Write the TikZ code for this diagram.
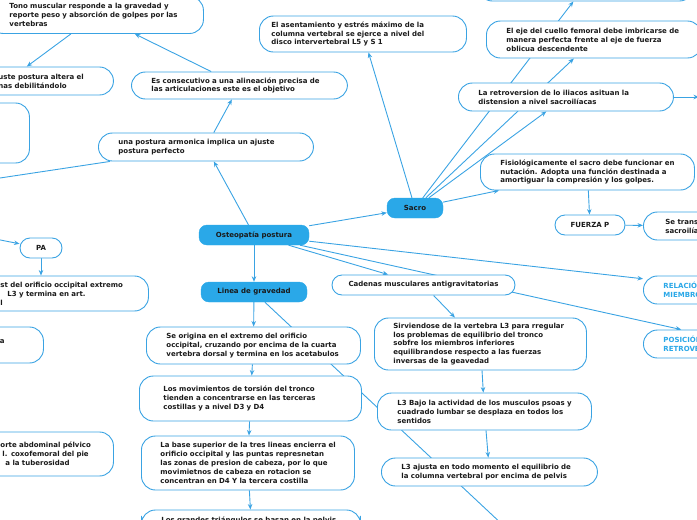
\documentclass[tikz,border=0pt]{standalone}
\usepackage{fontspec}
\setmainfont{DejaVu Sans}
\usetikzlibrary{arrows.meta,positioning,calc,backgrounds}
\definecolor{MapBlue} {HTML}{2AA8E8}
\definecolor{EdgeBlue}{HTML}{3AA3E3}
\definecolor{InkBlack}{HTML}{1A1A1A}
\tikzset{
  topic/.style={rectangle,rounded corners=8pt,fill=MapBlue,draw=MapBlue,
                font=\fontsize{7}{8.9}\selectfont\bfseries\color{InkBlack},
                minimum height=20pt,inner sep=0pt},
  idea/.style={rectangle,rounded corners=14pt,draw=EdgeBlue,fill=white,
               line width=0.9pt,align=left,inner xsep=20pt,inner ysep=0pt,
               font=\fontsize{7}{8.9}\selectfont\bfseries\color{InkBlack},
               execute at begin node={\rightskip=0pt plus 1fil minus 30pt}},
  tag/.style={idea,rounded corners=10pt,align=center,inner xsep=0pt,
              minimum height=20pt},
  link/.style={-{Stealth[length=5.5pt,width=4.5pt]},EdgeBlue,line width=0.9pt},
  tie/.style={EdgeBlue,line width=0.9pt},
}

\begin{document}
\begin{tikzpicture}[x=1pt,y=-1pt]
  \useasboundingbox (0,0) rectangle (697,520);
  \clip (0,0) rectangle (697,520);

  % left branch
  \node[idea,anchor=west,text width=174pt,minimum height=37pt] (tono) at (-11,15)
    {Tono muscular responde a la gravedad y\\reporte peso y absorción de golpes por las\\vertebras};
  \node[idea,anchor=west,text width=95pt,minimum height=28pt] (ajuste) at (-22,81)
    {uste postura altera el\\nas debilitándolo};
  \node[idea,anchor=west,text width=89pt,minimum height=60pt] (bloque) at (-100,133) {};
  \node[idea,anchor=west,text width=176pt,minimum height=27pt] (consec) at (131,85.5)
    {Es consecutivo a una alineación precisa de\\las articulaciones este es el objetivo};
  \node[idea,anchor=west,text width=175pt,minimum height=28pt] (armon) at (98,147)
    {una postura armonica implica un ajuste\\postura perfecto};

  % centre
  \node[topic,minimum width=110pt] (osteo) at (254,235) {Osteopatía postura};
  \node[topic,minimum width=106pt] (linea) at (254,292) {Linea de gravedad};
  \node[topic,minimum width=56pt]  (sacro) at (415,208) {Sacro};

  % sacro branch
  \node[idea,anchor=west,inner xsep=12pt,text width=183pt,minimum height=36pt] (asent) at (259,34)
    {El asentamiento y estrés máximo de la\\columna vertebral se ejerce a nivel del\\disco intervertebral L5 y S 1};
  \node[idea,anchor=west,text width=175pt,minimum height=32pt] (cima) at (478,-15) {};
  \node[idea,anchor=west,text width=175pt,minimum height=37pt] (eje) at (486,39.5)
    {El eje del cuello femoral debe imbricarse de\\manera perfecta frente al eje de fuerza\\oblicua descendente};
  \node[idea,anchor=west,text width=175pt,minimum height=28pt] (retro) at (458,97)
    {La retroversion de lo iliacos asituan la\\distension a nivel sacroilíacas};
  \node[idea,anchor=west,text width=174pt,minimum height=36pt] (fisio) at (480,172)
    {Fisiológicamente el sacro debe funcionar en\\nutación. Adopta una función destinada a\\amortiguar la compresión y los golpes.};
  \node[tag,minimum width=70pt] (fuerza) at (590,225) {FUERZA P};
  \node[idea,anchor=west,inner xsep=22pt,text width=140pt,minimum height=28pt] (setrans) at (643,226)
    {Se transmite\\sacroilíacas};

  % cadenas branch
  \node[tag,minimum width=183pt] (cadenas) at (423.5,285) {Cadenas musculares antigravitatorias};
  \node[idea,anchor=west,text width=160pt,minimum height=28pt,text=MapBlue] (relacion) at (643,290)
    {RELACIÓN\\MIEMBROS};
  \node[idea,anchor=west,text width=166pt,minimum height=28pt,text=MapBlue] (posicion) at (643,344)
    {POSICIÓN\\RETROVERSIÓN};
  \node[idea,anchor=west,inner xsep=19pt,text width=174pt,minimum height=52pt] (sirv) at (374,344)
    {Sirviendose de la vertebra L3 para rregular\\los problemas de equilibrio del tronco\\sobfre los miembros inferiores\\equilibrandose respecto a las fuerzas\\inversas de la geavedad};
  \node[idea,anchor=west,text width=174pt,minimum height=37pt] (l3bajo) at (377,411.5)
    {L3 Bajo la actividad de los musculos psoas y\\cuadrado lumbar se desplaza en todos los\\sentidos};
  \node[idea,anchor=west,text width=176pt,minimum height=28pt] (l3ajusta) at (381,472)
    {L3 ajusta en todo momento el equilibrio de\\la columna vertebral por encima de pelvis};

  % gravedad branch
  \node[idea,anchor=west,text width=174pt,minimum height=37pt] (origina) at (146,345.5)
    {Se origina en el extremo del orificio\\occipital, cruzando por encima de la cuarta\\vertebra dorsal y termina en los acetabulos};
  \node[idea,anchor=west,inner xsep=24pt,text width=174pt,minimum height=45pt] (torsion) at (139,398.5)
    {Los movimientos de torsión del tronco\\tienden a concentrarse en las terceras\\costillas y a nivel D3 y D4};
  \node[idea,anchor=west,inner xsep=19pt,text width=175pt,minimum height=54pt] (base) at (141,463)
    {La base superior de la tres lineas encierra el\\orificio occipital y las puntas represnetan\\las zonas de presion de cabeza, por lo que\\movimietnos de cabeza en rotacion se\\concentran en D4 Y la tercera costilla};
  \node[idea,anchor=west,text width=179pt,minimum height=20pt] (grandes) at (141,520)
    {Los grandes triángulos se basan en la pelvis};

  % PA branch
  \node[tag,minimum width=42pt] (pa) at (41,248) {PA};
  \node[idea,anchor=west,text width=128pt,minimum height=35pt] (occip) at (-20,293.5)
    {st del orificio occipital extremo\\\hspace*{7pt}L3 y termina en art.\\l};
  \node[idea,anchor=west,text width=26pt,minimum height=36pt] (la) at (-23,345)
    {la\\\mbox{}};
  \node[idea,anchor=west,text width=93pt,minimum height=44pt] (abdom) at (-20,454)
    {orte abdominal pélvico\\\hspace*{2pt}l. coxofemoral del pie\\\hspace*{5pt}a la tuberosidad};

  \coordinate (gravend)  at (520,541);
  \coordinate (armonout) at (-20,181);
  \coordinate (paentry)  at (-20,236);
  \coordinate (retroout) at (699,97);

  \begin{scope}[on background layer]
    \clip (0,0) rectangle (697,520);
    \draw[link] (osteo) -- (armon);
    \draw[link] (armon) -- (consec);
    \draw[link] (consec) -- (tono);
    \draw[link] (tono) -- (ajuste.143);
    \draw[tie]  (armon) -- (armonout);
    \draw[link] (osteo) -- (sacro);
    \draw[link] (osteo) -- (linea);
    \draw[link] (osteo) -- (cadenas);
    \draw[link] (osteo) -- (relacion);
    \draw[link] (osteo) -- (posicion);
    \draw[link] (sacro) -- (asent);
    \draw[link] (sacro) -- (cima);
    \draw[link] (sacro) -- (eje);
    \draw[link] (sacro) -- (retro);
    \draw[link] (sacro) -- (fisio);
    \draw[link] (retro) -- (retroout);
    \draw[link] (fisio) -- (fuerza);
    \draw[link] (fuerza) -- (setrans);
    \draw[link] (cadenas) -- (sirv);
    \draw[link] (sirv) -- (l3bajo);
    \draw[link] (l3bajo) -- (l3ajusta);
    \draw[link] (linea) -- (origina);
    \draw[tie]  (linea) -- (gravend);
    \draw[link] (origina) -- (torsion);
    \draw[link] (torsion) -- (base);
    \draw[link] (base) -- (grandes);
    \draw[link] (paentry) -- (pa);
    \draw[link] (pa) -- (pa |- occip.north);
  \end{scope}

\end{tikzpicture}
\end{document}
